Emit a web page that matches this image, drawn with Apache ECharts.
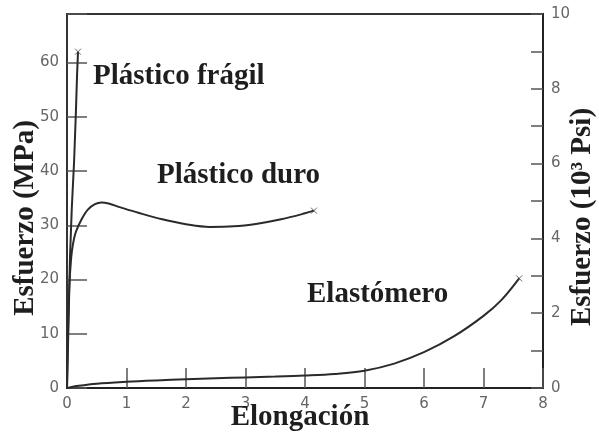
<!DOCTYPE html>
<html>
<head>
<meta charset="utf-8">
<script src="https://cdn.jsdelivr.net/npm/echarts@6/dist/echarts.min.js"></script>
<style>
  html, body { margin: 0; padding: 0; background: #fff; }
  #chart { width: 599px; height: 435px; }
</style>
</head>
<body>
<div id="chart"></div>
<script>
// Stress–strain curves for three kinds of polymer: [elongation, stress in MPa]
const fragilCurve = [
  [0, 0], [0.03, 14], [0.05, 24], [0.08, 33], [0.12, 42],
  [0.15, 51], [0.17, 58], [0.185, 62]
];
const duroCurve = [
  [0, 0], [0.02, 12], [0.04, 19], [0.07, 24], [0.1, 26.5], [0.15, 28.8],
  [0.25, 31.2], [0.35, 32.9], [0.47, 33.9], [0.58, 34.2], [0.7, 34.0],
  [0.9, 33.3], [1.2, 32.3], [1.6, 31.1], [2.0, 30.2], [2.4, 29.7],
  [2.8, 29.8], [3.2, 30.3], [3.6, 31.1], [4.0, 32.2], [4.15, 32.7]
];
const elastomeroCurve = [
  [0, 0], [0.2, 0.4], [0.5, 0.8], [1, 1.15], [1.5, 1.4], [2, 1.6],
  [2.5, 1.8], [3, 1.95], [3.5, 2.1], [4, 2.3], [4.5, 2.6], [5, 3.2],
  [5.5, 4.5], [6, 6.6], [6.5, 9.5], [7, 13.3], [7.3, 16.2], [7.6, 20.2]
];

// Axis ranges: MPa on the left, thousands of psi on the right (10 ksi = 68.95 MPa)
const elongacionRange = [0, 8];
const mpaRange = [0, 68.95];
const ksiRange = [0, 10];

const curveNames = ['Plástico frágil', 'Plástico duro', 'Elastómero'];
const curves = [fragilCurve, duroCurve, elastomeroCurve];

const serifFont = '"Liberation Serif", "Times New Roman", serif';
const tickFont = { fontFamily: '"DejaVu Sans", sans-serif', fontSize: 15, color: '#666' };

const chart = echarts.init(document.getElementById('chart'), null, { renderer: 'canvas' });

const lineSeries = curves.map((pts, i) => ({
  name: curveNames[i],
  type: 'line',
  data: pts,
  smooth: i === 0 ? false : 0.35,
  showSymbol: false,
  symbol: 'none',
  lineStyle: { color: '#2a2a2a', width: 2 },
  z: 3
}));

// Fracture points, marked with a small cross at the end of every curve
const endPoints = curves.map(pts => pts[pts.length - 1]);

chart.setOption({
  backgroundColor: '#fff',
  animation: false,
  grid: {
    left: 67, right: 56, top: 14, bottom: 47,
    show: true, borderColor: '#333', borderWidth: 2, backgroundColor: 'transparent'
  },
  xAxis: {
    type: 'value',
    min: elongacionRange[0], max: elongacionRange[1], interval: 1,
    axisLine: { show: true, onZero: false, lineStyle: { color: '#222', width: 2 } },
    axisTick: { show: true, inside: true, length: 20, lineStyle: { color: '#555', width: 1.5 } },
    axisLabel: Object.assign({ margin: 9 }, tickFont),
    splitLine: { show: false }
  },
  yAxis: [
    {
      type: 'value', position: 'left',
      min: mpaRange[0], max: mpaRange[1], interval: 10,
      axisLine: { show: true, onZero: false, lineStyle: { color: '#333', width: 2 } },
      axisTick: { show: true, inside: true, length: 20, lineStyle: { color: '#555', width: 1.5 } },
      axisLabel: Object.assign({
        margin: 8,
        formatter: v => (Math.abs(v % 10) < 1e-6 ? String(v) : '')
      }, tickFont),
      splitLine: { show: false }
    },
    {
      type: 'value', position: 'right',
      min: ksiRange[0], max: ksiRange[1], interval: 1,
      axisLine: { show: true, onZero: false, lineStyle: { color: '#222', width: 2 } },
      axisTick: { show: true, inside: true, length: 12, lineStyle: { color: '#555', width: 1.5 } },
      axisLabel: Object.assign({
        margin: 8,
        formatter: v => (v % 2 === 0 ? String(v) : '')
      }, tickFont),
      splitLine: { show: false }
    }
  ],
  series: lineSeries.concat([{
    type: 'scatter',
    data: endPoints,
    symbol: 'path://M0,0L10,10M10,0L0,10',
    symbolSize: 6,
    itemStyle: { color: 'transparent', borderColor: '#444', borderWidth: 1 },
    z: 4
  }]),
  graphic: [
    {
      type: 'text', left: 93, top: 62, z: 10,
      style: { text: 'Plástico frágil', font: 'bold 29px ' + serifFont, fill: '#1e1e1e' }
    },
    {
      type: 'text', left: 157, top: 161, z: 10,
      style: { text: 'Plástico duro', font: 'bold 29px ' + serifFont, fill: '#1e1e1e' }
    },
    {
      type: 'text', left: 307, top: 280, z: 10,
      style: { text: 'Elastómero', font: 'bold 29px ' + serifFont, fill: '#1e1e1e' }
    },
    {
      type: 'text', x: 300, y: 418, z: 10,
      style: {
        text: 'Elongación', font: 'bold 29px ' + serifFont, fill: '#1e1e1e',
        align: 'center', verticalAlign: 'middle'
      }
    },
    {
      type: 'text', x: 26, y: 218, rotation: Math.PI / 2, z: 10,
      style: {
        text: 'Esfuerzo (MPa)', font: 'bold 29px ' + serifFont, fill: '#1e1e1e',
        align: 'center', verticalAlign: 'middle'
      }
    },
    {
      type: 'text', x: 583, y: 217, rotation: Math.PI / 2, z: 10,
      style: {
        text: 'Esfuerzo (10³ Psi)', font: 'bold 29px ' + serifFont, fill: '#1e1e1e',
        align: 'center', verticalAlign: 'middle'
      }
    }
  ]
});
</script>
</body>
</html>
